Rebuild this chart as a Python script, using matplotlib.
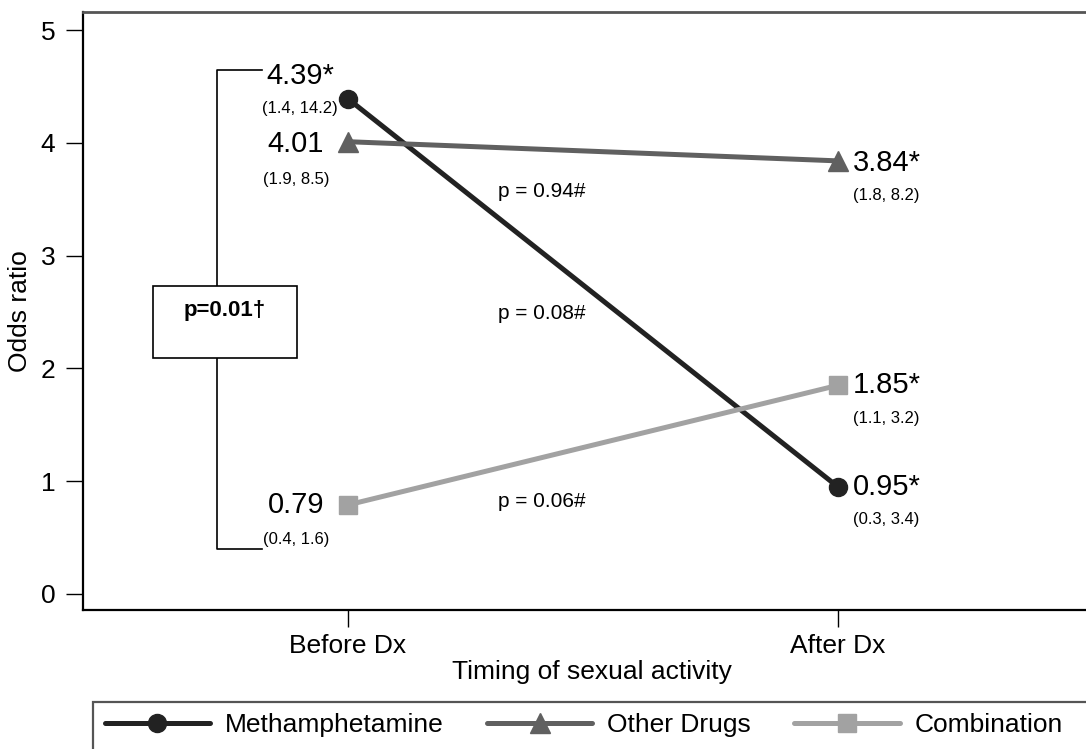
import matplotlib.pyplot as plt
from matplotlib.patches import Rectangle

plt.rcParams['font.family'] = ['Liberation Sans', 'DejaVu Sans']

# data
timing = ['Before Dx', 'After Dx']
series_names = ['Methamphetamine', 'Other Drugs', 'Combination']
meth = [4.39, 0.95]
other = [4.01, 3.84]
combo = [0.79, 1.85]
meth_labels = ['4.39*', '0.95*']
other_labels = ['4.01', '3.84*']
combo_labels = ['0.79', '1.85*']
meth_ci = ['(1.4, 14.2)', '(0.3, 3.4)']
other_ci = ['(1.9, 8.5)', '(1.8, 8.2)']
combo_ci = ['(0.4, 1.6)', '(1.1, 3.2)']
p_texts = ['p = 0.94#', 'p = 0.08#', 'p = 0.06#']
p_y = [3.57, 2.49, 0.82]
bracket_text = 'p=0.01\u2020'

colors = ['#222222', '#606060', '#a2a2a2']
markers = ['o', '^', 's']

fig = plt.figure(figsize=(10.86, 7.49), dpi=100)
# the plot region runs past the right edge, as in the original
ax = fig.add_axes([83 / 1086, 139 / 749, 1017 / 1086, 598 / 749])

x = [0, 1]
all_vals = [meth, other, combo]
all_labels = [meth_labels, other_labels, combo_labels]
all_ci = [meth_ci, other_ci, combo_ci]
handles = []
for vals, name, c, m in zip(all_vals, series_names, colors, markers):
    ms = 15 if m == '^' else 13
    h, = ax.plot(x, vals, color=c, lw=3.6, marker=m, markersize=ms,
                 markerfacecolor=c, markeredgecolor=c, label=name,
                 solid_capstyle='round')
    handles.append(h)

# value labels: (dx, dy value, dy ci) in pixels, left side centred, right side left-aligned
left_off = [(-48, 23, -10), (-52, -2, -38), (-52, 0, -35)]
right_off = [(15, 0, -33), (15, -2, -35), (15, 0, -33)]
for vals, labs, cis, lo, ro in zip(all_vals, all_labels, all_ci, left_off, right_off):
    ax.annotate(labs[0], xy=(0, vals[0]), xytext=(lo[0], lo[1]), textcoords='offset pixels',
                ha='center', va='center', fontsize=21)
    ax.annotate(cis[0], xy=(0, vals[0]), xytext=(lo[0], lo[2]), textcoords='offset pixels',
                ha='center', va='center', fontsize=12)
    ax.annotate(labs[1], xy=(1, vals[1]), xytext=(ro[0], ro[1]), textcoords='offset pixels',
                ha='left', va='center', fontsize=21)
    ax.annotate(cis[1], xy=(1, vals[1]), xytext=(ro[0], ro[2]), textcoords='offset pixels',
                ha='left', va='center', fontsize=12)

for t, yy in zip(p_texts, p_y):
    ax.text(0.395, yy, t, ha='center', va='center', fontsize=15)

# bracket comparing before-Dx estimates
bx, bx2 = -0.267, -0.176
ax.plot([bx2, bx, bx, bx2], [4.645, 4.645, 0.40, 0.40], color='black', lw=1.2, zorder=1)
ax.add_patch(Rectangle((-0.398, 2.09), 0.294, 0.64, facecolor='white',
                       edgecolor='black', lw=1.2, zorder=2))
ax.text(-0.251, 2.51, bracket_text, ha='center', va='center', fontsize=16,
        fontweight='bold', zorder=3)

ax.set_xlim(-0.541, 1.535)
ax.set_ylim(-0.142, 5.16)
ax.set_xticks(x)
ax.set_xticklabels(timing)
ax.set_yticks(range(6))
ax.tick_params(axis='both', labelsize=19, length=12, width=1, pad=5)
ax.tick_params(axis='y', pad=8)
ax.set_xlabel('Timing of sexual activity', fontsize=19, labelpad=2)
ax.set_ylabel('Odds ratio', fontsize=19, labelpad=6)
for s in ['left', 'bottom']:
    ax.spines[s].set_linewidth(1.6)
    ax.spines[s].set_color('black')
ax.spines['top'].set_linewidth(2)
ax.spines['top'].set_color('#555555')

# legend box runs off the bottom/right edge
fig.add_artist(Rectangle((93 / 1086, -0.2), 1.0, 0.2 + 47 / 749, transform=fig.transFigure,
                         fill=False, edgecolor='#555555', lw=1.6))
fig.legend(handles=handles, loc='center left', ncol=3, frameon=False,
           bbox_to_anchor=(94 / 1086, 24 / 749), fontsize=19,
           handlelength=4.0, handletextpad=0.55, columnspacing=1.65, borderaxespad=0)

fig.savefig('out.png', dpi=100, facecolor='white')
